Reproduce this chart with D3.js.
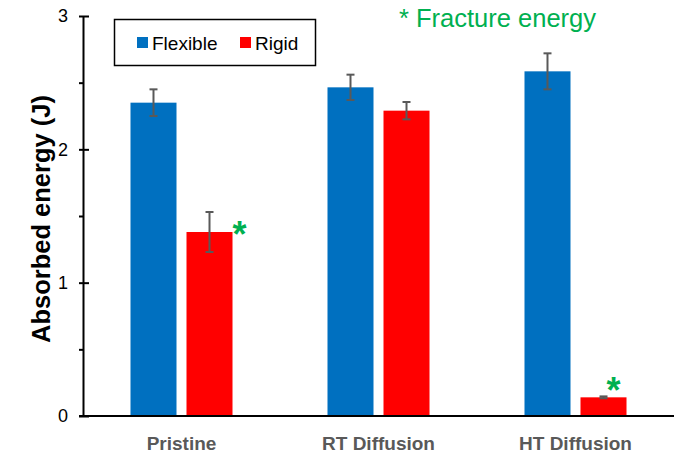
<!DOCTYPE html>
<html>
<head>
<meta charset="utf-8">
<script src="https://cdn.jsdelivr.net/npm/d3@7"></script>
<style>
  html, body { margin: 0; padding: 0; background: #fff; }
  svg { display: block; font-family: "Liberation Sans", Arial, sans-serif; }
</style>
</head>
<body>
<svg id="chart" width="674" height="455"></svg>
<script>
// Absorbed energy per condition, two specimen types
const categories = ["Pristine", "RT Diffusion", "HT Diffusion"];
const series = ["Flexible", "Rigid"];
const flexibleValues = [2.35, 2.465, 2.585];
const flexibleErrors = [0.10, 0.095, 0.135];
const rigidValues = [1.38, 2.29, 0.14];
const rigidErrors = [0.15, 0.065, 0.007];
// Conditions where the rigid value is a fracture energy
const fractureFlags = [true, false, true];
const yTicks = [0, 1, 2, 3];
const yMinorTicks = [0.5, 1.5, 2.5];
const colors = { Flexible: "#0070C0", Rigid: "#FF0000" };

// Marker placement relative to the rigid bar's top-right corner
const starOffsets = { "Pristine": [0, 15], "HT Diffusion": [-20, 6] };

const svg = d3.select("#chart");
const plotLeft = 83, plotRight = 674, plotTop = 16, plotBottom = 416;

const x = d3.scaleBand().domain(categories).range([plotLeft, plotRight]).padding(0);
const xSub = d3.scaleBand().domain(series).range([0, x.bandwidth()])
  .paddingInner(0.1786).paddingOuter(0.848);
const y = d3.scaleLinear().domain([0, 3]).range([plotBottom, plotTop]);

const rows = [];
categories.forEach((c, i) => {
  rows.push({ cat: c, s: "Flexible", v: flexibleValues[i], e: flexibleErrors[i] });
  rows.push({ cat: c, s: "Rigid", v: rigidValues[i], e: rigidErrors[i], star: fractureFlags[i] });
});

// Bars
svg.append("g").selectAll("rect").data(rows).join("rect")
  .attr("x", d => x(d.cat) + xSub(d.s))
  .attr("y", d => y(d.v))
  .attr("width", xSub.bandwidth())
  .attr("height", d => y(0) - y(d.v))
  .attr("fill", d => colors[d.s]);

// Error bars
const eb = svg.append("g").attr("stroke", "#595959").attr("stroke-width", 2);
rows.forEach(d => {
  const cx = x(d.cat) + xSub(d.s) + xSub.bandwidth() / 2;
  const y1 = y(d.v + d.e), y2 = y(d.v - d.e);
  eb.append("line").attr("x1", cx).attr("x2", cx).attr("y1", y1).attr("y2", y2);
  eb.append("line").attr("x1", cx - 4).attr("x2", cx + 4).attr("y1", y1).attr("y2", y1);
  eb.append("line").attr("x1", cx - 4).attr("x2", cx + 4).attr("y1", y2).attr("y2", y2);
});

// Fracture energy markers
svg.append("g").selectAll("text").data(rows.filter(d => d.star)).join("text")
  .attr("x", d => x(d.cat) + xSub(d.s) + xSub.bandwidth() + starOffsets[d.cat][0])
  .attr("y", d => y(d.v) + starOffsets[d.cat][1])
  .attr("fill", "#00B050")
  .attr("font-size", 36)
  .attr("font-weight", "bold")
  .text("*");

// Y axis
const yAxis = svg.append("g").attr("transform", `translate(${plotLeft},0)`)
  .call(d3.axisLeft(y).tickValues(yTicks).tickFormat(d3.format("d")).tickSizeInner(4).tickSizeOuter(0));
yAxis.select(".domain").attr("stroke", "#000").attr("stroke-width", 2);
yAxis.selectAll(".tick line").attr("stroke", "#000").attr("stroke-width", 2)
  .attr("x1", -4).attr("x2", 6);
yAxis.selectAll(".tick text").attr("font-size", 18).attr("fill", "#000")
  .attr("font-family", "'Liberation Sans', Arial, sans-serif").attr("x", -15);
const yMinor = svg.append("g").attr("transform", `translate(${plotLeft},0)`)
  .call(d3.axisLeft(y).tickValues(yMinorTicks).tickFormat("").tickSizeInner(4).tickSizeOuter(0));
yMinor.select(".domain").remove();
yMinor.selectAll(".tick line").attr("stroke", "#000").attr("stroke-width", 2);

// X axis
const xAxis = svg.append("g").attr("transform", `translate(0,${plotBottom})`)
  .call(d3.axisBottom(x).tickSize(0).tickPadding(0));
xAxis.select(".domain").attr("d", `M${plotLeft - 4},0H${plotRight}`).attr("stroke", "#000").attr("stroke-width", 2);
xAxis.selectAll(".tick text").attr("font-size", 19).attr("font-weight", "bold")
  .attr("fill", "#595959").attr("dy", null).attr("y", 34)
  .attr("font-family", "'Liberation Sans', Arial, sans-serif");

// Y axis title
svg.append("text")
  .attr("transform", "translate(50,219) rotate(-90)")
  .attr("text-anchor", "middle")
  .attr("font-size", 25.5)
  .attr("font-weight", "bold")
  .attr("fill", "#000")
  .text("Absorbed energy (J)");

// Legend
const lg = svg.append("g");
lg.append("rect").attr("x", 114.5).attr("y", 19.5).attr("width", 201).attr("height", 46)
  .attr("fill", "#fff").attr("stroke", "#000").attr("stroke-width", 1.5);
const legendX = [137, 240];
series.forEach((s, i) => {
  lg.append("rect").attr("x", legendX[i]).attr("y", 37).attr("width", 11).attr("height", 11)
    .attr("fill", colors[s]);
  lg.append("text").attr("x", legendX[i] + 15).attr("y", 49.5)
    .attr("font-size", 19).attr("fill", "#000").text(s);
});

// Note
svg.append("text").attr("x", 399).attr("y", 27)
  .attr("font-size", 25.5).attr("fill", "#00B050")
  .text("* Fracture energy");
</script>
</body>
</html>
